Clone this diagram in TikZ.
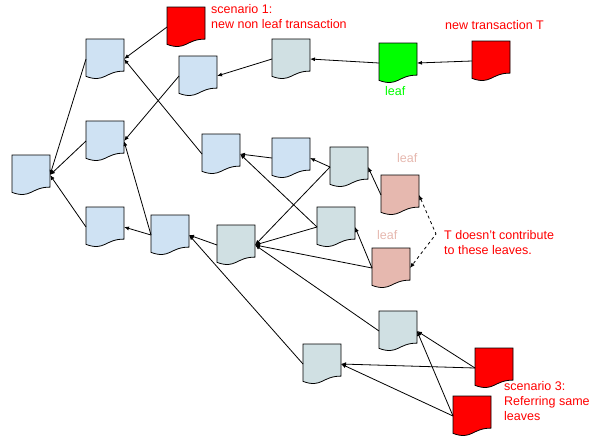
\documentclass[tikz,border=0pt]{standalone}
\usepackage{fontspec}
\setmainfont{Liberation Sans}
\usetikzlibrary{arrows.meta}

\definecolor{lblue}{HTML}{CFE2F3}
\definecolor{gblue}{HTML}{D0E0E3}
\definecolor{leafpink}{HTML}{E6B8AF}
\definecolor{newred}{HTML}{FF0000}
\definecolor{leafgreen}{HTML}{00FF00}

\begin{document}
\begin{tikzpicture}[x=1pt, y=-1pt, >={Latex[length=5pt,width=4pt]},
    every node/.style={font=\fontsize{12.5}{15}\selectfont},
    doc/.style={minimum width=38pt, minimum height=40pt, inner sep=0pt, outer sep=0pt},
    docshape/.style={draw=black, line width=0.8pt, fill=#1},
    link/.style={->, line width=0.8pt},
    note/.style={text=newred, anchor=base west, align=left, inner sep=0pt},
    leafnote/.style={text=#1, anchor=base west, inner sep=0pt}]
        \useasboundingbox (0,0) rectangle (610,437);

        % transactions
        \foreach \n/\x/\y/\c in {A/31/175/lblue, B1/105/59/lblue, B2/105/141/lblue, B3/105/227/lblue,
            C1/198/76/lblue, C2/221/154/lblue, C3/170/235/lblue, C4/291/158/lblue,
            D1/291/59/gblue, E1/349/167/gblue, E2/336/227/gblue, F/236/245/gblue,
            G1/398/331/gblue, G2/322/364/gblue, P1/400/195/leafpink, P2/391/268/leafpink,
            S1/186/27/newred, L/398/63/leafgreen, T/491/61/newred, R1/494/368/newred, R2/472/416/newred} {
            \node[doc] (\n) at (\x,\y) {};
            \draw[docshape=\c] (\n.north west) -- (\n.north east) -- ([yshift=-32.1pt]\n.north east)
                .. controls ([xshift=19pt,yshift=-32.1pt]\n.north west) and ([xshift=19pt,yshift=-44.3pt]\n.north west)
                .. ([yshift=-37.4pt]\n.north west) -- cycle;
        }

        % references
        \foreach \s/\t in {B1/A, B2/A, B3/A, S1/B1, C2/B1, C1/B2, C3/B2, C3/B3, D1/C1, L/D1, T/L,
            C4/C2, E2/C2, E1/C4, E1/F, E2/F, P2/F, G1/F, F/C3, G2/C3, P1/E1, P2/E2,
            R1/G1, R2/G1, R1/G2, R2/G2} {
            \draw[link] (\s.west) -- (\t.east);
        }

        \coordinate (kink) at (436,234);
        \draw[<->, dashed, line width=0.8pt] (P1.east) -- (kink) -- (P2.east);

        % labels (base = last line)
        \node[note] (s1) at (211,28) {scenario 1:\\new non leaf transaction};
        \node[note] (nt) at (445,29) {new transaction T};
        \node[note] (td) at (444,254) {T doesn’t contribute\\to these leaves.};
        \node[note] (s3) at (504,420) {scenario 3:\\Referring same\\leaves};
        \node[leafnote=leafgreen] (lf1) at (385,95) {leaf};
        \node[leafnote=leafpink] (lf2) at (397,162) {leaf};
        \node[leafnote=leafpink] (lf3) at (377,239) {leaf};
\end{tikzpicture}
\end{document}
